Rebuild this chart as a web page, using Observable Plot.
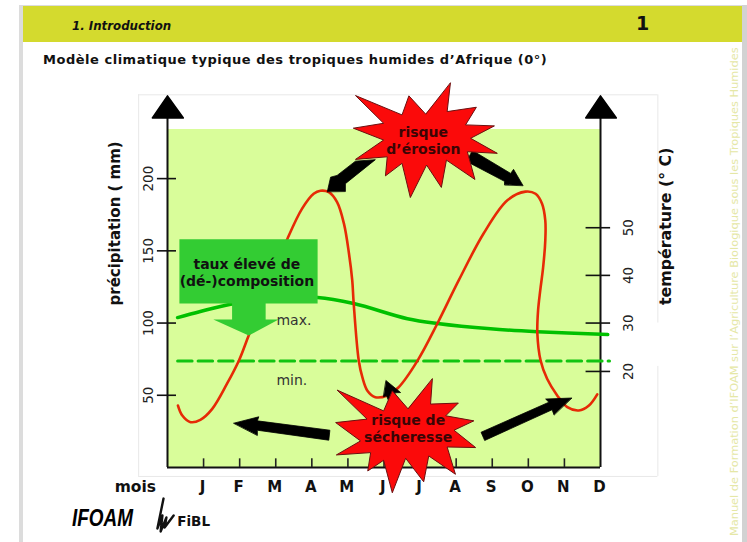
<!DOCTYPE html>
<html lang="fr">
<head>
<meta charset="utf-8">
<title>Modèle climatique</title>
<script src="https://cdn.jsdelivr.net/npm/d3@7"></script>
<script src="https://cdn.jsdelivr.net/npm/@observablehq/plot@0.6"></script>
<style>
html,body{margin:0;padding:0;background:#fff;width:747px;height:542px;overflow:hidden}
body{position:relative;font-family:"DejaVu Sans",sans-serif}
.abs{position:absolute}
#chart{position:absolute;left:0;top:0}
#chart svg{background:transparent;display:block}
</style>
</head>
<body>
<div class="abs" style="left:19px;top:5px;width:4px;height:537px;background:#dcdcdc"></div>
<div class="abs" style="left:19px;top:5px;width:723px;height:1px;background:#dcdcdc"></div>
<div class="abs" style="left:742px;top:5px;width:5px;height:537px;background:#d2d2d2"></div>
<div class="abs" style="left:23px;top:6px;width:719px;height:36px;background:#d4da2e"></div>
<div class="abs" style="left:72px;top:19px;font:italic bold 11.8px 'DejaVu Sans';color:#111;white-space:nowrap">1. Introduction</div>
<div class="abs" style="left:636px;top:12px;font:bold 19px 'DejaVu Sans';color:#111">1</div>
<div class="abs" style="left:43px;top:52px;font:bold 13px 'DejaVu Sans';color:#111;white-space:nowrap;letter-spacing:.52px">Modèle climatique typique des tropiques humides d’Afrique (0°)</div>
<div class="abs" style="left:727px;top:536px;font:11.35px 'DejaVu Sans';color:#e5e7a6;white-space:nowrap;transform-origin:0 0;transform:rotate(-90deg)">Manuel de Formation d’IFOAM sur l’Agriculture Biologique sous les Tropiques Humides</div>
<div id="chart"></div>
<script>
const months = ["J","F","M","A","M","J","J","A","S","O","N","D"];
const monthPos = [1,2,3,4,5,6,7,8,9,10,11,12];
const rainTicks = [50,100,150,200];
const tempTicks = [20,30,40,50];
const tempOnRainScale = [66.5,100,133,166];

const rainX = [0.29,0.41,0.64,0.91,1.24,1.65,1.98,2.25,2.74,3.33,3.73,4.05,4.24,4.47,4.7,4.89,5.03,5.12,5.16,5.3,5.4,5.54,5.76,6.09,6.4,6.93,7.48,8.07,8.76,9.42,9.92,10.2,10.38,10.47,10.47,10.41,10.33,10.27,10.25,10.34,10.52,10.8,11.08,11.4,11.68,11.91];
const rainY = [42.9,36,31.4,33,40.6,58,74.1,91.4,122,158.7,179.2,189.5,191.6,190.6,183.7,168.8,148,129.5,113.6,74.1,62.5,53.2,48.7,49.9,55.4,74,99.7,129.5,162,185,191,189.5,182.6,171,157.2,138.5,122.6,108.7,92.8,74.1,61.4,49.9,41.8,39.5,42.9,50.6];

const tmaxX = [0.28,0.91,1.75,3,4.16,5.16,6.65,7.48,8.95,10.25,12.2];
const tmaxY = [103.8,108,113,117,117.7,113.5,103,99.7,96,94,92];
const tminX = [0.28,12.25];
const tminY = [73.7,73.7];

const erosionStarX = [7.84,7.75,8.56,8.26,9.06,8.40,9.14,8.31,8.52,7.73,7.59,7.18,6.73,6.50,6.04,6.09,5.21,5.99,5.15,5.99,5.21,6.50,6.69,7.15];
const erosionStarY = [266.1,246.4,249.4,237.2,236.5,227.9,217.5,218.6,199.4,212.8,193.9,209.4,186.9,210.6,201.9,215.1,213.3,226.7,234.9,238.3,257.5,244.1,257.3,244.8];
const droughtStarX = [7.34,7.29,8.06,7.71,8.49,7.94,8.54,7.75,7.98,7.24,7.10,6.60,6.23,5.99,5.55,5.63,4.68,5.35,4.66,5.53,4.70,5.99,6.23,6.66];
const droughtStarY = [61.3,43.9,44.6,35.8,32.3,25.8,13.8,14.2,-4.7,8,-9.9,6.4,-17.5,5,-2.4,10.3,8.7,18.4,31.1,33.5,53.6,39.2,53.1,40.8];

const arrowsX = [
  [4.43,4.52,4.70,5.21,5.76,4.93,4.93],
  [9.85,9.59,9.51,8.45,8.29,9.34,9.34],
  [1.84,2.53,2.49,4.50,4.47,2.49,2.49],
  [11.2,10.48,10.57,8.69,8.79,10.66,10.71],
  [6.06,6.46,6.29,6.65,6.24,6.07,5.99]
];
const arrowsY = [
  [191.1,201,202.2,212.1,213.1,196.5,191.3],
  [195.3,206.4,203.6,219.5,211.9,198.1,195.8],
  [30.7,35.1,32.3,25.8,18.9,25.8,22.4],
  [48.1,47.4,45.2,24.4,18.7,40,36.5],
  [60.1,51.9,51.7,39.2,39.2,49.7,49]
];
const calloutX = [0.33,4.16,4.16,2.72,2.72,3.08,2.25,1.27,1.79,1.79,0.33];
const calloutY = [158,158,113.5,113.5,102.4,102.4,91.3,102.4,102.4,113.5,113.5];
const fiblMarkX = [-0.11,-0.28,-0.14,-0.19,-0.03,-0.08,0.17];
const fiblMarkY = [-21.5,-42.2,-33.2,-44.3,-34.6,-41.6,-33.2];

const pts = (xs, ys) => xs.map((x, i) => ({x, y: ys[i]}));
const poly = (xs, ys, o) => Plot.line(pts(xs, ys), {x: "x", y: "y", curve: "linear-closed", ...o});
const label = (t, x, y, o) => Plot.text([t], {x: () => x, y: () => y, ...o});
const bold = {fontWeight: "bold", fill: "#111", lineAnchor: "middle"};

const chart = Plot.plot({
  width: 747, height: 542,
  marginLeft: 167, marginRight: 147, marginTop: 129, marginBottom: 75,
  style: {fontFamily: "DejaVu Sans", background: "transparent", overflow: "visible"},
  x: {domain: [0, 12], axis: null},
  y: {domain: [0, 234], axis: null},
  marks: [
    // light frame around the figure
    Plot.ruleX([-0.8], {y1: -6.2, y2: 258, stroke: "#e8e8e8"}),
    Plot.ruleX([13.59], {y1: 100, y2: 258, stroke: "#e8e8e8"}),
    Plot.ruleX([13.59], {y1: -6.2, y2: 70, stroke: "#e8e8e8"}),
    Plot.ruleY([258], {x1: -0.8, x2: 13.59, stroke: "#e8e8e8"}),
    Plot.ruleY([-6.2], {x1: -0.8, x2: 13.59, stroke: "#e8e8e8"}),
    Plot.rect([0], {x1: () => 0, x2: () => 12, y1: () => 0, y2: () => 234, fill: "#d9fd9a"}),
    // axes
    Plot.ruleX([0], {y1: 0, y2: 245, stroke: "#111", strokeWidth: 2}),
    Plot.ruleX([12], {y1: 0, y2: 245, stroke: "#111", strokeWidth: 2}),
    Plot.ruleY([0], {x1: 0, x2: 12, stroke: "#111", strokeWidth: 2}),
    poly([-0.42,0.44,0], [242,242,257.3], {fill: "#000", stroke: "#000"}),
    poly([11.59,12.44,12], [242,242,257.3], {fill: "#000", stroke: "#000"}),
    Plot.ruleY(rainTicks, {x1: -0.28, x2: 0.25, stroke: "#111", strokeWidth: 1.6}),
    Plot.ruleY(tempOnRainScale, {x1: 11.6, x2: 12.28, stroke: "#111", strokeWidth: 1.6}),
    Plot.ruleX(monthPos.slice(0, 11), {y1: 0, y2: 6, stroke: "#222", strokeWidth: 1.6}),
    Plot.text(rainTicks, {x: () => -0.53, y: d => d, text: String, rotate: -90, fontSize: 13.5, fill: "#222"}),
    Plot.text(tempOnRainScale, {x: () => 12.78, y: d => d, text: (d, i) => String(tempTicks[i]), rotate: -90, fontSize: 13.5, fill: "#222"}),
    Plot.text(monthPos, {x: d => d - 0.03, y: () => -13.8, text: (d, i) => months[i], fontSize: 15, ...bold}),
    label("mois", -0.89, -13.8, {fontSize: 15.5, ...bold}),
    label("précipitation ( mm)", -1.44, 169, {rotate: -90, fontSize: 15, ...bold}),
    label("température (° C)", 13.8, 167, {rotate: -90, fontSize: 15.8, ...bold}),
    // series
    Plot.line(pts(tminX, tminY), {x: "x", y: "y", stroke: "#12c412", strokeWidth: 3, strokeDasharray: "14.5 6"}),
    Plot.line(pts(tmaxX, tmaxY), {x: "x", y: "y", stroke: "#00c000", strokeWidth: 3.5, curve: "catmull-rom"}),
    Plot.line(pts(rainX, rainY), {x: "x", y: "y", stroke: "#e62a06", strokeWidth: 2.6, curve: "catmull-rom"}),
    label("max.", 3.02, 101.8, {textAnchor: "start", fontSize: 14, fill: "#333"}),
    label("min.", 3.02, 60.2, {textAnchor: "start", fontSize: 14, fill: "#333"}),
    // callout
    poly(calloutX, calloutY, {fill: "#33cc33"}),
    label("taux élevé de", 2.2, 140.6, {fontSize: 14, ...bold}),
    label("(dé-)composition", 2.2, 128.8, {fontSize: 14, ...bold}),
    // arrows and stars
    ...arrowsX.map((xs, i) => poly(xs, arrowsY[i], {fill: "#000", stroke: "#000", strokeWidth: 0.8})),
    poly(erosionStarX, erosionStarY, {fill: "#fb0a0a", stroke: "#6b1010", strokeWidth: 1}),
    poly(droughtStarX, droughtStarY, {fill: "#fb0a0a", stroke: "#6b1010", strokeWidth: 1}),
    label("risque", 7.09, 232, {fontSize: 14, ...bold, fill: "#3a0505"}),
    label("d’érosion", 7.09, 220, {fontSize: 14, ...bold, fill: "#3a0505"}),
    label("risque de", 6.67, 32.5, {fontSize: 14, ...bold, fill: "#3a0505"}),
    label("sécheresse", 6.67, 20.8, {fontSize: 14, ...bold, fill: "#3a0505"}),
    // logos
    label("IFOAM", -1.8, -35.5, {fontSize: 24, fontWeight: "bold", fontStyle: "italic", fill: "#000", fontFamily: "Liberation Sans"}),
    Plot.line(pts(fiblMarkX, fiblMarkY), {x: "x", y: "y", stroke: "#111", strokeWidth: 2.4}),
    label("FiBL", 0.27, -37.5, {textAnchor: "start", fontSize: 13.5, ...bold})
  ]
});
document.getElementById("chart").appendChild(chart);
d3.select(chart).selectAll("text").filter(function () { return this.textContent === "IFOAM"; })
  .attr("textLength", 61).attr("lengthAdjust", "spacingAndGlyphs");
</script>
</body>
</html>
